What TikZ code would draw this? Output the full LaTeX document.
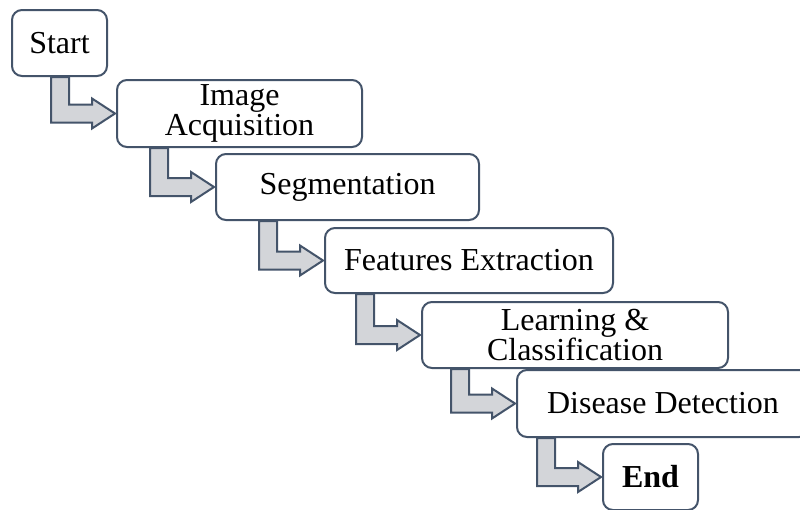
\documentclass[tikz,border=0pt]{standalone}
\usepackage{fontspec}
\setmainfont{Liberation Serif}
\usetikzlibrary{calc,backgrounds}
\definecolor{edgeblue}{HTML}{44546A}
\definecolor{arrowgray}{HTML}{D3D5D9}
\tikzset{
  stepbox/.style={draw=edgeblue, line width=2pt, rounded corners=10pt, fill=white,
    inner sep=0pt, align=center, font=\fontsize{32}{30}\selectfont},
  bendarrow/.style={draw=edgeblue, line width=2pt, fill=arrowgray, line join=miter}
}
\newcommand\bendconn[2]{%
  \path[bendarrow] let \p1=(#2.west), \p2=(#1.south) in
    (\x1-65pt,\y2) -- (\x1-65pt,\y1-9pt) -- (\x1-24pt,\y1-9pt) -- (\x1-24pt,\y1-15pt)
    -- (\x1-1pt,\y1) -- (\x1-24pt,\y1+15pt) -- (\x1-24pt,\y1+9pt) -- (\x1-47pt,\y1+9pt)
    -- (\x1-47pt,\y2) -- cycle;}
\begin{document}
\begin{tikzpicture}[x=1pt,y=-1pt]
\useasboundingbox (0,0) rectangle (800,509);
\clip (0,0) rectangle (800,509);
\path
  (59.5,43)    node[stepbox, minimum width=95pt,  minimum height=66pt] (start) {Start}
  (239.5,113.5) node[stepbox, minimum width=245pt, minimum height=67pt] (acq) {Image\\Acquisition}
  (347.5,187)  node[stepbox, minimum width=263pt, minimum height=66pt] (seg) {Segmentation}
  (469,260.5)  node[stepbox, minimum width=288pt, minimum height=65pt] (feat) {Features Extraction}
  (575,335)    node[stepbox, minimum width=306pt, minimum height=66pt] (learn) {Learning \&\\Classification}
  (663,403.5)  node[stepbox, minimum width=292pt, minimum height=67pt] (dis) {Disease Detection}
  (650.5,477)  node[stepbox, minimum width=95pt,  minimum height=66pt] (end) {\textbf{End}};
\begin{scope}[on background layer]
\fill[white] (0,0) rectangle (800,509);
\bendconn{start}{acq}
\bendconn{acq}{seg}
\bendconn{seg}{feat}
\bendconn{feat}{learn}
\bendconn{learn}{dis}
\bendconn{dis}{end}
\end{scope}
\end{tikzpicture}
\end{document}
